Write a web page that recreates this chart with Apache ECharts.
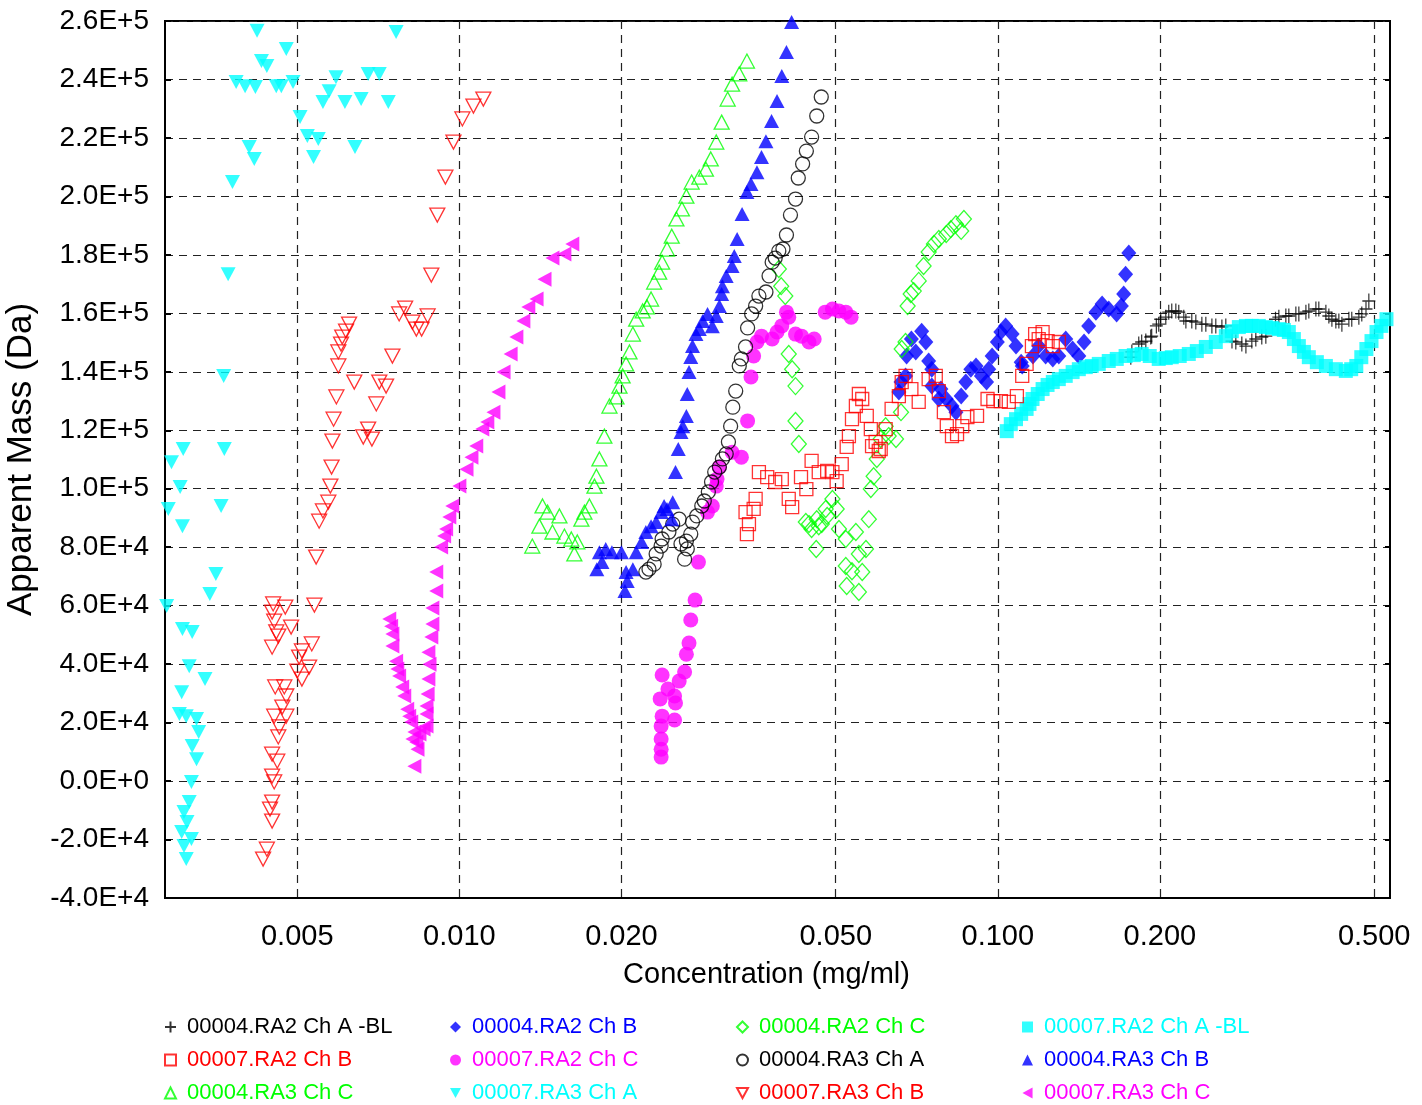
<!DOCTYPE html>
<html>
<head>
<meta charset="utf-8">
<title>Apparent Mass vs Concentration</title>
<script src="https://cdn.jsdelivr.net/npm/echarts@6/dist/echarts.min.js"></script>
<style>
  html, body { margin: 0; padding: 0; background: #fff; }
  #chart { width: 1422px; height: 1105px; }
</style>
</head>
<body>
<div id="chart"></div>
<script>
// x axis labels (mg/ml), y axis range (Da)
var xTicks = [0.005, 0.010, 0.020, 0.050, 0.100, 0.200, 0.500];
var xMin = 0.00284, xMax = 0.535;
var yMin = -40000, yMax = 260000, yStep = 20000;

// [concentration mg/ml, apparent mass Da]
var s04RA2ChA = [
  [0.1766,145000],[0.1774,146800],[0.1827,149500],[0.1850,150200],[0.1883,150500],[0.1923,151900],[0.1931,152200],
  [0.1970,155700],[0.1990,156300],[0.2007,158000],[0.2051,158700],[0.2077,160400],[0.2104,160800],[0.2141,160800],
  [0.2168,160400],[0.2215,158700],[0.2235,157400],[0.2292,157400],[0.2332,157000],[0.2393,156300],[0.2434,156300],
  [0.2498,155700],[0.2540,155700],[0.2607,155300],[0.2651,155700],[0.2722,150500],[0.2767,150200],[0.2839,149500],
  [0.2889,148800],[0.2963,150500],[0.3014,151200],[0.3092,151900],[0.3146,152200],[0.3279,158000],[0.3326,158700],
  [0.3427,159100],[0.3471,159100],[0.3577,159800],[0.3623,159800],[0.3734,160400],[0.3781,160800],[0.3897,161500],
  [0.3946,161500],[0.4067,160400],[0.4119,159100],[0.4173,158000],[0.4244,157400],[0.4299,157400],[0.4355,156300],
  [0.4487,158000],[0.4543,158000],[0.4683,158700],[0.4742,159800],[0.4828,161500],[0.4887,164200]
];
var s04RA2ChB = [
  [0.0655,133100],[0.0661,136500],[0.0674,138600],[0.0677,145400],[0.0691,151200],[0.0704,146800],[0.0722,153900],
  [0.0735,150200],[0.0744,143700],[0.0754,140900],[0.0754,135100],[0.0777,130700],[0.0784,134100],[0.0802,130700],
  [0.0822,128300],[0.0836,126200],[0.0855,131700],[0.0872,136500],[0.0891,140900],[0.0911,142000],[0.0932,138600],
  [0.0953,136500],[0.0962,140900],[0.0976,145400],[0.0998,150200],[0.1013,153600],[0.1034,155700],[0.1063,152900],
  [0.1081,148800],[0.1105,143300],[0.1110,142000],[0.1162,145400],[0.1191,148800],[0.1227,145400],[0.1265,144400],
  [0.1298,145400],[0.1337,151200],[0.1377,147800],[0.1414,145400],[0.1446,150200],[0.1475,155700],[0.1521,160400],
  [0.1562,163200],[0.1607,161500],[0.1662,159800],[0.1696,162500],[0.1713,166600],[0.1727,173400],[0.1751,180600]
];
var s04RA2ChC = [
  [0.0392,175200],[0.0396,169300],[0.0403,165900],[0.0409,146100],[0.0415,140900],[0.0421,135100],[0.0421,123200],
  [0.0427,115300],[0.0440,88600],[0.0446,87900],[0.0451,86200],[0.0460,79400],[0.0461,89600],[0.0465,87200],
  [0.0471,87900],[0.0479,93100],[0.0482,90700],[0.0493,96500],[0.0502,93100],[0.0507,86200],[0.0522,82800],
  [0.0522,73600],[0.0524,66700],[0.0536,71800],[0.0545,85200],[0.0552,77700],[0.0552,64700],[0.0560,71500],
  [0.0569,79400],[0.0576,89600],[0.0581,99900],[0.0588,104300],[0.0596,110200],[0.0606,117000],[0.0619,121400],
  [0.0627,118000],[0.0647,117000],[0.0661,126200],[0.0663,147800],[0.0674,150200],[0.0680,162500],[0.0689,166600],
  [0.0698,167600],[0.0713,171100],[0.0728,176200],[0.0744,181000],[0.0761,183700],[0.0777,185400],[0.0802,187100],
  [0.0818,188800],[0.0836,190500],[0.0855,188200],[0.0865,192300]
];
var s07RA2ChA = [
  [0.1039,119700],[0.1057,122100],[0.1081,123800],[0.1105,125600],[0.1131,127300],[0.1145,129000],[0.1160,130700],
  [0.1186,132400],[0.1211,134100],[0.1237,135500],[0.1265,136500],[0.1298,137500],[0.1337,138600],[0.1377,139900],
  [0.1414,140900],[0.1457,141600],[0.1494,142000],[0.1540,142700],[0.1607,143700],[0.1663,144400],[0.1727,145400],
  [0.1789,145700],[0.1850,146100],[0.1915,145400],[0.1990,144400],[0.2051,144700],[0.2104,145000],[0.2177,145400],
  [0.2263,146100],[0.2342,147100],[0.2434,148500],[0.2540,150200],[0.2651,152200],[0.2720,153900],[0.2803,155300],
  [0.2889,155700],[0.2963,155700],[0.3053,155700],[0.3146,155300],[0.3228,155000],[0.3326,154600],[0.3398,154300],
  [0.3471,153600],[0.3547,151200],[0.3623,148800],[0.3702,146800],[0.3781,145000],[0.3913,143300],[0.4067,142000],
  [0.4244,140900],[0.4429,140300],[0.4532,140900],[0.4632,142000],[0.4732,145000],[0.4836,147800],[0.4943,150500],
  [0.5050,153600],[0.5156,155700],[0.5270,158000]
];
var s07RA2ChB = [
  [0.0340,92000],[0.0345,87900],[0.0342,84500],[0.0352,93100],[0.0355,96500],[0.0360,105700],[0.0373,104000],
  [0.0386,102300],[0.0397,103300],[0.0409,96500],[0.0415,93700],[0.0431,104000],[0.0441,99900],[0.0451,109500],
  [0.0465,105700],[0.0482,106100],[0.0493,105700],[0.0502,102600],[0.0513,108400],[0.0524,114300],[0.0529,118000],
  [0.0536,123800],[0.0545,128300],[0.0552,132400],[0.0560,130700],[0.0571,124900],[0.0581,120400],[0.0584,114600],
  [0.0593,116000],[0.0601,112900],[0.0606,113600],[0.0619,120400],[0.0635,127300],[0.0655,131700],[0.0663,136500],
  [0.0674,138600],[0.0691,134100],[0.0713,129700],[0.0744,137500],[0.0767,138600],[0.0777,133400],[0.0794,126200],
  [0.0804,121400],[0.0822,118000],[0.0840,118700],[0.0859,121400],[0.0878,124500],[0.0915,124900],[0.0957,130700],
  [0.0981,130000],[0.1013,130000],[0.1048,129700],[0.1085,131700],[0.1110,138600],[0.1131,142700],[0.1157,148800],
  [0.1173,152900],[0.1191,151200],[0.1211,153600],[0.1237,150500],[0.1265,148800],[0.1298,150200]
];
var s07RA2ChC = [
  [0.0237,8200],[0.0237,10900],[0.0237,14400],[0.0237,18800],[0.0238,22200],[0.0236,28100],[0.0238,36300],
  [0.0244,31500],[0.0251,29100],[0.0252,26700],[0.0251,20900],[0.0256,34200],[0.0262,37300],[0.0264,43400],
  [0.0267,47200],[0.0269,55100],[0.0274,61900],[0.0278,74900],[0.0289,92000],[0.0295,94100],[0.0300,100900],
  [0.0301,103300],[0.0304,107400],[0.0321,112500],[0.0334,110800],[0.0343,123200],[0.0348,138200],[0.0352,145400],
  [0.0357,150200],[0.0364,152200],[0.0381,151200],[0.0389,153600],[0.0397,155700],[0.0405,160400],[0.0409,158700],
  [0.0421,152900],[0.0432,152200],[0.0446,150200],[0.0456,151200],[0.0478,160400],[0.0493,161500],[0.0507,160800],
  [0.0522,160400],[0.0534,158700]
];
var s04RA3ChA = [
  [0.0470,234000],[0.0461,227500],[0.0451,220300],[0.0441,215500],[0.0434,211100],[0.0426,206300],[0.0421,199100],
  [0.0412,193600],[0.0405,186800],[0.0399,182000],[0.0392,181300],[0.0386,178900],[0.0381,177500],[0.0376,172800],
  [0.0371,167300],[0.0360,165900],[0.0355,162500],[0.0349,159800],[0.0343,155000],[0.0340,148500],[0.0334,144400],
  [0.0331,142000],[0.0326,133400],[0.0322,127900],[0.0319,121400],[0.0316,116000],[0.0313,111900],[0.0308,110200],
  [0.0304,107400],[0.0298,105700],[0.0294,102300],[0.0290,98900],[0.0285,95800],[0.0282,94100],[0.0276,90700],
  [0.0271,88600],[0.0269,84500],[0.0264,82100],[0.0258,81100],[0.0265,79400],[0.0262,75900],[0.0256,89600],
  [0.0249,87900],[0.0245,85200],[0.0238,82800],[0.0237,80400],[0.0232,77700],[0.0230,74200],[0.0225,72500],
  [0.0222,71500]
];
var s04RA3ChB = [
  [0.0414,259700],[0.0405,249400],[0.0397,241200],[0.0389,232600],[0.0380,225800],[0.0371,218900],[0.0364,213500],
  [0.0357,208300],[0.0348,204200],[0.0342,201500],[0.0335,194000],[0.0328,185400],[0.0324,179600],[0.0321,176200],
  [0.0313,172800],[0.0308,169300],[0.0307,166600],[0.0304,162500],[0.0300,159100],[0.0289,159800],[0.0283,157400],
  [0.0295,155600],[0.0279,154600],[0.0275,152900],[0.0271,148800],[0.0269,145100],[0.0267,139900],[0.0265,132400],
  [0.0264,124900],[0.0260,121400],[0.0258,119400],[0.0255,113600],[0.0252,105700],[0.0249,95400],[0.0243,93100],
  [0.0248,89600],[0.0240,94100],[0.0237,92000],[0.0232,88600],[0.0227,87200],[0.0222,85200],[0.0218,81800],
  [0.0213,78300],[0.0210,72500],[0.0205,68400],[0.0203,65000],[0.0200,78300],[0.0192,78300],[0.0187,79400],
  [0.0182,78300],[0.0180,72500],[0.0184,74900],[0.0204,71500]
];
var s04RA3ChC = [
  [0.01366,80400],[0.01427,94100],[0.01458,92000],[0.01408,87200],[0.01489,85200],[0.01534,90700],[0.01567,83800],
  [0.01614,82800],[0.01635,77700],[0.01656,81800],[0.01685,89600],[0.01707,92000],[0.01744,94100],[0.01782,100900],
  [0.01797,104300],[0.01820,110200],[0.01859,118000],[0.01900,128300],[0.01958,131400],[0.01983,135100],[0.0201,138600],
  [0.0204,142700],[0.0207,146800],[0.0210,152900],[0.0213,158000],[0.0219,160800],[0.0223,162200],[0.0227,164900],
  [0.0230,170700],[0.0235,174100],[0.0238,177500],[0.0243,182000],[0.0248,186400],[0.0253,192300],[0.0259,195700],
  [0.0264,200100],[0.0270,204900],[0.0279,206600],[0.0287,209300],[0.0293,212800],[0.0300,218600],[0.0307,225400],
  [0.0315,233300],[0.0321,238400],[0.0331,241900],[0.0342,246300]
];
var s07RA3ChA = [
  [0.00421,256700],[0.00763,256200],[0.00477,250400],[0.00429,246300],[0.00439,244600],[0.00385,239100],[0.00400,237700],
  [0.00418,237400],[0.00457,237700],[0.00467,237700],[0.00491,239100],[0.00590,240800],[0.00573,236000],[0.00558,232300],
  [0.00613,232300],[0.00657,233300],[0.00677,241900],[0.00710,241900],[0.00738,232300],[0.00506,227200],[0.00522,220700],
  [0.00547,219600],[0.00536,213500],[0.00640,216900],[0.00407,216900],[0.00416,212800],[0.00379,204900],[0.00372,173400],
  [0.00365,138600],[0.00307,113600],[0.00366,113600],[0.00292,109100],[0.00303,100600],[0.00361,94100],[0.00288,93100],
  [0.00306,87200],[0.00353,70800],[0.00344,64000],[0.00286,59900],[0.00306,52000],[0.00319,51000],[0.00315,39300],
  [0.00337,34900],[0.00305,30400],[0.00302,22900],[0.00311,22200],[0.00325,21200],[0.00328,16800],[0.00319,12000],
  [0.00325,7500],[0.00318,-300],[0.00315,-7200],[0.00308,-10600],[0.00312,-14000],[0.00305,-17400],[0.00318,-19800],
  [0.00308,-22200],[0.00311,-26700]
];
var s07RA3ChB = [
  [0.01108,233300],[0.01062,230900],[0.01013,226500],[0.00975,218600],[0.00942,206600],[0.00910,193600],[0.00887,173100],
  [0.00793,161800],[0.00773,159800],[0.00818,157000],[0.00832,154600],[0.00851,154600],[0.00873,159100],[0.00624,156300],
  [0.00616,153900],[0.00606,151900],[0.00603,149500],[0.00596,146800],[0.00596,142000],[0.00751,145400],[0.00638,136500],
  [0.00710,136500],[0.00731,135100],[0.00591,131400],[0.00701,129000],[0.00584,123800],[0.00677,120400],[0.00663,117700],
  [0.00688,117000],[0.00581,116300],[0.00579,107400],[0.00576,100900],[0.00571,95400],[0.00558,92400],[0.00549,88900],
  [0.00542,76600],[0.00451,60600],[0.00538,60200],[0.00475,59500],[0.00449,57800],[0.00453,54700],[0.00487,52700],
  [0.00457,51000],[0.00461,49600],[0.00449,45800],[0.00532,46900],[0.00510,44500],[0.00504,42400],[0.00526,39000],
  [0.00500,37600],[0.00510,34900],[0.00455,32200],[0.00473,32200],[0.00477,29100],[0.00469,25300],[0.00453,22200],
  [0.00477,22200],[0.00463,18500],[0.00461,15100],[0.00449,9200],[0.00459,6800],[0.00449,1700],[0.00453,-300],
  [0.00449,-7200],[0.00445,-9600],[0.00449,-13700],[0.00439,-23300],[0.00432,-26700]
];
var s07RA3ChC = [
  [0.00741,55400],[0.00747,53000],[0.00751,50300],[0.00751,46200],[0.00763,41000],[0.00767,38300],[0.00773,35900],
  [0.00783,32200],[0.00790,29100],[0.00800,24600],[0.00807,22200],[0.00814,20200],[0.00825,16800],[0.00832,13300],
  [0.00836,10900],[0.00825,5100],[0.00818,14400],[0.00843,16100],[0.00858,17800],[0.00869,18800],[0.00869,22900],
  [0.00869,25700],[0.00873,29800],[0.00876,34900],[0.00880,40000],[0.00876,44100],[0.00887,49300],[0.00891,53700],
  [0.00891,59200],[0.00906,65000],[0.00906,71500],[0.00925,80100],[0.00937,83800],[0.00945,86200],[0.00958,90300],
  [0.00970,94100],[0.01000,100900],[0.01031,106700],[0.01053,110800],[0.01075,114600],[0.01103,120400],[0.01127,122800],
  [0.01157,126200],[0.01182,133100],[0.01208,139900],[0.01245,146100],[0.01276,151900],[0.01315,157400],[0.01343,162200],
  [0.01391,164900],[0.01439,171700],[0.01489,178900],[0.01567,180300],[0.01621,183700]
];

var BLACK = '#000000', BLUE = '#0000ff', GREEN = '#00ff00', CYAN = '#00ffff', RED = '#ff0000', MAGENTA = '#ff00ff';
var PLUS = 'path://M0,6L12,6M6,0L6,12';
var TRI_DOWN = 'path://M0,0L12,0L6,11Z';
var TRI_LEFT = 'path://M11,0L11,12L0,6Z';

// name, data, symbol, colour, hollow, size
var seriesDefs = [
  ['00004.RA2 Ch A -BL', s04RA2ChA, PLUS, BLACK, true, [13, 15]],
  ['00004.RA2 Ch B', s04RA2ChB, 'diamond', BLUE, false, [15, 17]],
  ['00004.RA2 Ch C', s04RA2ChC, 'diamond', GREEN, true, [15, 17]],
  ['00007.RA2 Ch A -BL', s07RA2ChA, 'rect', CYAN, false, 14],
  ['00007.RA2 Ch B', s07RA2ChB, 'rect', RED, true, 13],
  ['00007.RA2 Ch C', s07RA2ChC, 'circle', MAGENTA, false, 15],
  ['00004.RA3 Ch A', s04RA3ChA, 'circle', BLACK, true, 14],
  ['00004.RA3 Ch B', s04RA3ChB, 'triangle', BLUE, false, [15, 14]],
  ['00004.RA3 Ch C', s04RA3ChC, 'triangle', GREEN, true, [15, 14]],
  ['00007.RA3 Ch A', s07RA3ChA, TRI_DOWN, CYAN, false, [15, 14]],
  ['00007.RA3 Ch B', s07RA3ChB, TRI_DOWN, RED, true, [15, 14]],
  ['00007.RA3 Ch C', s07RA3ChC, TRI_LEFT, MAGENTA, false, [14, 15]]
];

var series = seriesDefs.map(function (d) {
  return {
    name: d[0],
    type: 'scatter',
    data: d[1],
    symbol: d[2],
    symbolSize: d[5],
    itemStyle: d[4]
      ? { color: 'rgba(0,0,0,0)', borderColor: d[3], borderWidth: 1.3 }
      : { color: d[3], borderWidth: 0 },
    emphasis: { disabled: true }
  };
});

// legend: four columns of three rows, text in the series colour
var legends = [];
var colLeft = [164, 450, 736, 1022];
for (var c = 0; c < 4; c++) {
  var items = [];
  for (var r = 0; r < 3; r++) {
    var d = seriesDefs[r * 4 + c];
    items.push({ name: d[0], textStyle: { color: d[3] } });
  }
  legends.push({
    orient: 'vertical',
    left: colLeft[c],
    top: 1016,
    height: 100,
    padding: 0,
    itemWidth: 11,
    itemHeight: 11,
    itemGap: 11,
    selectedMode: false,
    textStyle: { fontFamily: 'Liberation Sans', fontSize: 22, lineHeight: 22, padding: [0, 0, 0, 6] },
    data: items
  });
}

var gridLine = { show: true, lineStyle: { color: '#222', width: 1.2, type: [8, 6] } };

var option = {
  animation: false,
  backgroundColor: '#ffffff',
  textStyle: { fontFamily: 'Liberation Sans' },
  grid: {
    left: 165, right: 32, top: 21, bottom: 207,
    outerBoundsMode: 'none', containLabel: false,
    show: true, borderColor: '#000', borderWidth: 2, backgroundColor: '#fff'
  },
  legend: legends,
  xAxis: {
    type: 'log',
    logBase: 10,
    min: xMin,
    max: xMax,
    name: 'Concentration (mg/ml)',
    nameLocation: 'middle',
    nameGap: 62,
    nameTextStyle: { fontSize: 29, color: '#000', fontFamily: 'Liberation Sans', padding: [0, 22, 0, 0] },
    axisLine: { show: true, onZero: false, lineStyle: { color: '#000', width: 2 } },
    axisTick: { show: false, customValues: xTicks },
    axisLabel: {
      customValues: xTicks,
      fontSize: 29, color: '#000', margin: 24,
      formatter: function (v) { return v.toFixed(3); }
    },
    splitLine: gridLine
  },
  yAxis: [{
    type: 'value',
    min: yMin, max: yMax, interval: yStep,
    name: 'Apparent Mass (Da)',
    nameLocation: 'middle',
    nameGap: 110,
    nameTextStyle: { fontSize: 35, color: '#000', fontFamily: 'Liberation Sans' },
    axisLine: { show: true, onZero: false, lineStyle: { color: '#000', width: 2 } },
    axisTick: { show: true, inside: true, length: 6, lineStyle: { color: '#000', width: 2 } },
    axisLabel: {
      fontSize: 28, color: '#000', margin: 16,
      formatter: function (v) { return v.toExponential(1).toUpperCase(); }
    },
    splitLine: gridLine
  }, {
    type: 'value',
    position: 'right',
    min: yMin, max: yMax, interval: yStep,
    axisLine: { show: true, onZero: false, lineStyle: { color: '#000', width: 2 } },
    axisTick: { show: true, inside: true, length: 5, lineStyle: { color: '#000', width: 2 } },
    axisLabel: { show: false },
    splitLine: { show: false }
  }],
  series: series
};

var chart = echarts.init(document.getElementById('chart'), null, { renderer: 'canvas' });
chart.setOption(option);
</script>
</body>
</html>
